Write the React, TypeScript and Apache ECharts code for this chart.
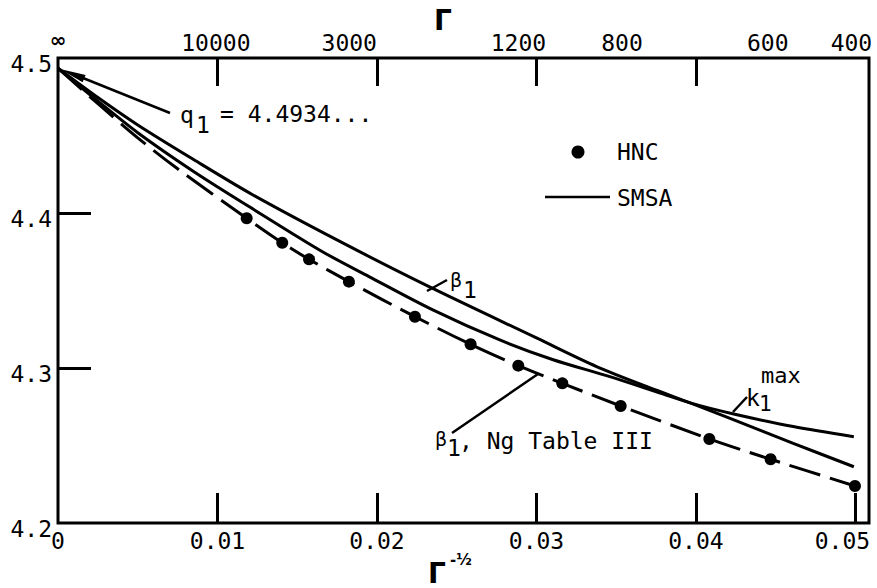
import React, { useEffect, useRef } from "react";
import * as echarts from "echarts";

// x = Gamma^(-1/2), y = wave number
const DASH_X = [0, 0.0025, 0.005, 0.0075, 0.01183, 0.01406, 0.01574, 0.01824, 0.02238, 0.02587, 0.02886, 0.03162, 0.03528, 0.04084, 0.04468, 0.04997];
const DASH_Y = [4.4934, 4.4705, 4.4485, 4.4285, 4.3966, 4.3808, 4.3701, 4.3557, 4.3331, 4.3153, 4.3015, 4.2901, 4.2755, 4.2542, 4.2411, 4.2239];

const HNC_X = [0.01183, 0.01406, 0.01574, 0.01824, 0.02238, 0.02587, 0.02886, 0.03162, 0.03528, 0.04084, 0.04468, 0.04997];
const HNC_Y = [4.3966, 4.3808, 4.3701, 4.3557, 4.3331, 4.3153, 4.3015, 4.2901, 4.2755, 4.2542, 4.2411, 4.2239];

const BETA_X = [0, 0.0025, 0.005, 0.0085, 0.0122, 0.0177, 0.0233, 0.03, 0.0338, 0.0377, 0.0398, 0.0423, 0.0461, 0.0499];
const BETA_Y = [4.4934, 4.4745, 4.4568, 4.4345, 4.4118, 4.3815, 4.3523, 4.3194, 4.3008, 4.285, 4.2768, 4.2668, 4.2514, 4.2363];

const KMAX_X = [0, 0.0025, 0.005, 0.0085, 0.012, 0.0165, 0.0195, 0.0235, 0.0277, 0.031, 0.0346, 0.0377, 0.0398, 0.0423, 0.0461, 0.0499];
const KMAX_Y = [4.4934, 4.4722, 4.4518, 4.4268, 4.404, 4.3755, 4.359, 4.3375, 4.3181, 4.3055, 4.2944, 4.284, 4.277, 4.2705, 4.2622, 4.2557];

const X_TICKS = [0, 0.01, 0.02, 0.03, 0.04, 0.05];
const Y_TICKS = [4.2, 4.3, 4.4, 4.5];
const TOP_LABEL_VALUES = [0, 0.0099, 0.01826, 0.02887, 0.03536, 0.0445, 0.05];
const TOP_LABEL_TEXTS = ["∞", "10000", "3000", "1200", "800", "600", "400"];
const TOP_TICKS = [0.01, 0.02, 0.03, 0.04];

const MONO = '"DejaVu Sans Mono", monospace';
const SANS = '"DejaVu Sans", sans-serif';
const pairs = (xs: number[], ys: number[]) => xs.map((x, i) => [x, ys[i]]);

export default function App() {
  const ref = useRef<HTMLDivElement>(null);
  useEffect(() => {
    document.body.style.margin = "0";
    const chart = echarts.init(ref.current!, undefined, { renderer: "svg" });
    const txt = (text: string, x: number, y: number, size: number, extra: any = {}) => ({
      type: "text",
      x,
      y,
      silent: true,
      style: {
        text,
        fill: "#000",
        font: `${extra.bold ? "bold " : ""}${size}px ${extra.family || MONO}`,
        align: extra.align || "left",
        verticalAlign: "middle",
      },
    });
    const seg = (x1: number, y1: number, x2: number, y2: number) => ({
      type: "line",
      silent: true,
      shape: { x1, y1, x2, y2 },
      style: { stroke: "#000", lineWidth: 2.5 },
    });
    const nearestTop = (v: number) => {
      let best = 0;
      TOP_LABEL_VALUES.forEach((t, i) => {
        if (Math.abs(t - v) < Math.abs(TOP_LABEL_VALUES[best] - v)) best = i;
      });
      return best;
    };
    chart.setOption({
      animation: false,
      backgroundColor: "#fff",
      grid: {
        left: 58,
        top: 58,
        right: 8,
        bottom: 65,
        show: true,
        borderColor: "#000",
        borderWidth: 3,
        outerBoundsMode: "none",
        containLabel: false,
      },
      xAxis: [
        {
          type: "value",
          min: 0,
          max: 0.05085,
          position: "bottom",
          splitLine: { show: false },
          axisLine: { show: false },
          axisTick: { show: true, inside: true, length: 30, lineStyle: { color: "#000", width: 3 }, customValues: X_TICKS.slice(1) },
          axisLabel: {
            customValues: X_TICKS,
            color: "#000",
            fontFamily: MONO,
            fontSize: 23,
            margin: 6,
            formatter: (v: number) => (v === 0 ? "0" : v >= 0.0499 ? "{last|" + v.toFixed(2) + "}" : v.toFixed(2)),
            rich: { last: { fontFamily: MONO, fontSize: 23, color: "#000", padding: [0, 26, 0, 0] } },
          },
        },
        {
          type: "value",
          min: 0,
          max: 0.05085,
          position: "top",
          splitLine: { show: false },
          axisLine: { show: false },
          axisTick: { show: true, inside: true, length: 28, lineStyle: { color: "#000", width: 3 }, customValues: TOP_TICKS },
          axisLabel: {
            customValues: TOP_LABEL_VALUES,
            color: "#000",
            fontFamily: MONO,
            fontSize: 23,
            margin: 4,
            formatter: (v: number) => {
              const i = nearestTop(v);
              if (i === 0) return "{inf|∞}";
              if (i === TOP_LABEL_TEXTS.length - 1) return "{last|" + TOP_LABEL_TEXTS[i] + "}";
              return TOP_LABEL_TEXTS[i];
            },
            rich: {
              inf: { fontSize: 20, fontWeight: "bold", fontFamily: SANS, color: "#000", padding: [0, 0, 4, 0] },
              last: { fontFamily: MONO, fontSize: 23, color: "#000", padding: [0, 8, 0, 0] },
            },
          },
        },
      ],
      yAxis: {
        type: "value",
        min: 4.2,
        max: 4.5,
        splitLine: { show: false },
        axisLine: { show: false },
        axisTick: { show: true, inside: true, length: 33, lineStyle: { color: "#000", width: 3 }, customValues: [4.3, 4.4] },
        axisLabel: {
          customValues: Y_TICKS,
          color: "#000",
          fontFamily: MONO,
          fontSize: 23,
          margin: 6,
          verticalAlign: "top",
          lineHeight: 12,
          formatter: (v: number) => v.toFixed(1),
        },
      },
      series: [
        {
          name: "β1 Ng Table III",
          type: "line",
          data: pairs(DASH_X, DASH_Y),
          smooth: 0.3,
          showSymbol: false,
          lineStyle: { color: "#000", width: 3, type: [32, 10] },
        },
        {
          name: "β1 SMSA",
          type: "line",
          data: pairs(BETA_X, BETA_Y),
          smooth: 0.3,
          showSymbol: false,
          lineStyle: { color: "#000", width: 3 },
        },
        {
          name: "k1max SMSA",
          type: "line",
          data: pairs(KMAX_X, KMAX_Y),
          smooth: 0.3,
          showSymbol: false,
          lineStyle: { color: "#000", width: 3 },
        },
        {
          name: "HNC",
          type: "scatter",
          data: pairs(HNC_X, HNC_Y),
          symbol: "circle",
          symbolSize: 12,
          itemStyle: { color: "#000", opacity: 1 },
          z: 5,
        },
      ],
      graphic: [
        // axis titles
        txt("Γ", 434, 20, 28, { bold: true, family: SANS }),
        txt("Γ", 428, 573, 28, { bold: true, family: SANS }),
        txt("-½", 450, 560, 15, { bold: true, family: SANS }),
        // q1 annotation with arrow
        {
          type: "polygon",
          silent: true,
          shape: { points: [[60, 69], [82.6, 82.3], [85.6, 74.9]] },
          style: { fill: "#000" },
        },
        seg(83, 78, 170, 113),
        txt("q", 180, 115, 23),
        txt("1", 196, 125, 23),
        txt("= 4.4934...", 220, 114, 23),
        // legend
        { type: "circle", silent: true, shape: { cx: 578, cy: 152, r: 6.5 }, style: { fill: "#000" } },
        txt("HNC", 617, 152, 23),
        seg(545, 197, 610, 197),
        txt("SMSA", 617, 198, 23),
        // beta1 label
        seg(427, 291, 447, 280),
        txt("β", 450, 280, 19, { family: SANS }),
        txt("1", 463, 290, 23),
        // k1max label
        seg(733, 412, 747, 397),
        txt("k", 746, 398, 23),
        txt("1", 759, 404, 21),
        txt("max", 761, 375, 22),
        // beta1 Ng Table III label
        seg(452, 433, 538, 374),
        txt("β", 435, 439, 19, { family: SANS }),
        txt("1", 447, 448, 23),
        txt(", Ng Table III", 459, 441, 23),
      ],
    });
    return () => chart.dispose();
  }, []);
  return <div ref={ref} style={{ width: 877, height: 588 }} />;
}
